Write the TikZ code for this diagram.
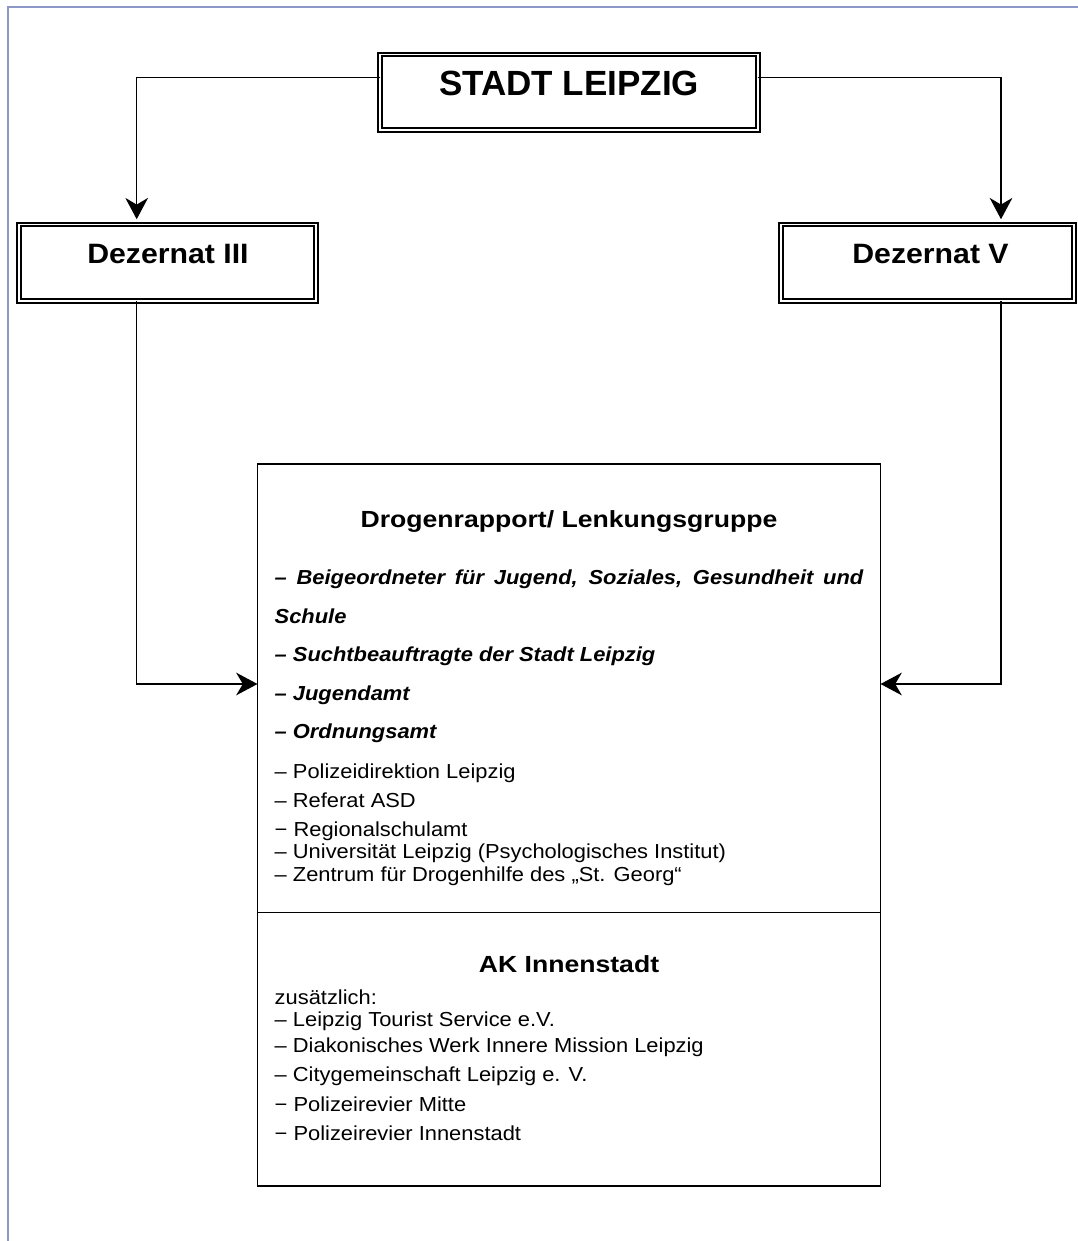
\documentclass[tikz,border=0pt]{standalone}
\usepackage{fontspec}
\setmainfont{Liberation Sans}[FakeStretch=1.08]
\newfontfamily\titlef{Liberation Sans}[FakeStretch=1.14]
\newfontfamily\plainf{Liberation Sans}
\usetikzlibrary{arrows.meta}
\definecolor{framecol}{RGB}{140,152,200}
\begin{document}
\begin{tikzpicture}[x=0.75pt,y=-0.75pt,
  dbox/.style={draw, double, line width=1.5pt, double distance=1.3pt, inner sep=0pt, outer sep=0pt},
  mbox/.style={draw, line width=1.1pt, inner sep=0pt, outer sep=0pt},
  divline/.style={line width=1.1pt},
  conn/.style={line width=1pt},
  arr/.style={conn, -{Stealth[length=16pt,width=17pt,inset=5pt]}},
  txt/.style={inner sep=0pt, outer sep=0pt, anchor=base},
  item/.style={inner sep=0pt, outer sep=0pt, anchor=base west, font=\fontsize{15.2pt}{18pt}\selectfont},
  bitem/.style={item, font=\fontsize{15.2pt}{18pt}\selectfont\bfseries\itshape},
]
\useasboundingbox (0,0) rectangle (1077,1241);
% frame
\draw[framecol, line width=1.5pt] (8.3,1260) -- (8.3,7.3) -- (1090,7.3);

% boxes
\node[dbox, minimum width=283.1pt, minimum height=56.5pt] (stadt) at (569,92.2) {};
\node[dbox, minimum width=222.9pt, minimum height=57.4pt] (dez3) at (167.5,262.85) {};
\node[dbox, minimum width=219.7pt, minimum height=57.4pt] (dez5) at (927.65,262.85) {};
\node[mbox, minimum width=467.25pt, minimum height=541.5pt] (main) at (569,825) {};

% titles
\node[txt, font=\plainf\fontsize{26.25pt}{30pt}\selectfont\bfseries] (tstadt) at (569,96) {STADT LEIPZIG};
\node[txt, font=\fontsize{21pt}{25pt}\selectfont\bfseries] (tdez3) at (168,263.3) {Dezernat III};
\node[txt, font=\fontsize{21pt}{25pt}\selectfont\bfseries] (tdez5) at (930.5,263.3) {Dezernat V};
\node[txt, font=\titlef\fontsize{17.5pt}{21pt}\selectfont\bfseries] (tdrog) at (569,527.3) {Drogenrapport/ Lenkungsgruppe};
\node[txt, font=\titlef\fontsize{17.5pt}{21pt}\selectfont\bfseries] (tak) at (569,972.7) {AK Innenstadt};

% Drogenrapport members
\node[bitem] (i1) at (274.7,584.3) {\makebox[441.45pt][s]{– Beigeordneter für Jugend, Soziales, Gesundheit und}};
\node[bitem] (i2) at (274.7,623) {Schule};
\node[bitem] (i3) at (274.7,661.7) {– Suchtbeauftragte der Stadt Leipzig};
\node[bitem] (i4) at (274.7,700) {– Jugendamt};
\node[bitem] (i5) at (274.7,738.3) {– Ordnungsamt};
\node[item] (i6) at (274.7,778.3) {– Polizeidirektion Leipzig};
\node[item] (i7) at (274.7,807.3) {– Referat ASD};
\node[item] (i8) at (274.7,836.7) {− Regionalschulamt};
\node[item] (i9) at (274.7,858.3) {– Universität Leipzig (Psychologisches Institut)};
\node[item] (i10) at (274.7,881) {– Zentrum für Drogenhilfe des „St. Georg“};

% AK Innenstadt members
\node[item] (k0) at (274.7,1004) {zusätzlich:};
\node[item] (k1) at (274.7,1026.7) {– Leipzig Tourist Service e.V.};
\node[item] (k2) at (274.7,1052.7) {– Diakonisches Werk Innere Mission Leipzig};
\node[item] (k3) at (274.7,1081.7) {– Citygemeinschaft Leipzig e. V.};
\node[item] (k4) at (274.7,1111.7) {− Polizeirevier Mitte};
\node[item] (k5) at (274.7,1140) {− Polizeirevier Innenstadt};

% divider
\coordinate (dv) at (569,912.3);
\draw[divline] (dv -| main.west) -- (dv -| main.east);

% connectors
\coordinate (c1) at (136.7,77.3);
\coordinate (c2) at (1001,77.3);
\coordinate (c3) at (136.7,684);
\coordinate (c4) at (1001,684);
\draw[arr, shorten >=4pt] (stadt.west |- c1) -- (c1) -- (c1 |- dez3.north);
\draw[arr, shorten >=4pt] (stadt.east |- c2) -- (c2) -- (c2 |- dez5.north);
\draw[arr] (c3 |- dez3.south) -- (c3) -- (c3 -| main.west);
\draw[arr] (c4 |- dez5.south) -- (c4) -- (c4 -| main.east);
\end{tikzpicture}
\end{document}
